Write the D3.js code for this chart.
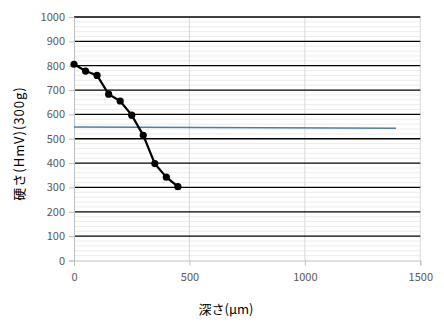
<!DOCTYPE html>
<html><head><meta charset="utf-8">
<script src="https://cdn.jsdelivr.net/npm/d3@7"></script>
<style>body{margin:0;background:#fff}svg{display:block}</style>
</head><body>
<script>
const depth = [0, 50, 100, 150, 200, 250, 300, 350, 400, 450];
const hardness = [806, 778, 760, 683, 655, 597, 514, 398, 342, 303];
const refX = [0, 1395];
const refY = [548, 543];
const xTicks = [0, 500, 1000, 1500];
const yTicks = [0, 100, 200, 300, 400, 500, 600, 700, 800, 900, 1000];
const xTitle = "深さ(μm)";
const yTitle = "硬さ(HmV)(300g)";

const W = 444, H = 331;
const m = {l: 74, r: 24, t: 17, b: 70};
const svg = d3.select("body").append("svg").attr("width", W).attr("height", H);
const x = d3.scaleLinear().domain([0, 1500]).range([m.l, 420.3]);
const y = d3.scaleLinear().domain([0, 1000]).range([260.5, m.t]);
const font = "'Noto Sans CJK JP', 'Liberation Sans', sans-serif";

// minor gridlines
const minor = d3.range(0, 1001, 20).filter(v => v % 100 !== 0);
svg.append("g").selectAll("line").data(minor).join("line")
  .attr("x1", x(0)).attr("x2", x(1500))
  .attr("y1", d => y(d)).attr("y2", d => y(d))
  .attr("stroke", "#ececec").attr("stroke-width", 1);
// vertical gridlines
svg.append("g").selectAll("line").data(xTicks.slice(1)).join("line")
  .attr("x1", d => x(d)).attr("x2", d => x(d))
  .attr("y1", y(1000)).attr("y2", y(0))
  .attr("stroke", "#d9d9d9").attr("stroke-width", 1);
// major gridlines
svg.append("g").selectAll("line").data(yTicks.slice(1)).join("line")
  .attr("x1", x(0)).attr("x2", x(1500))
  .attr("y1", d => y(d)).attr("y2", d => y(d))
  .attr("stroke", "#000").attr("stroke-width", 1.3);

// axes
const yAxis = d3.axisLeft(y).tickValues(yTicks).tickSize(5).tickPadding(4).tickFormat(d3.format("d"));
const gy = svg.append("g").attr("transform", `translate(${x(0)},0)`).call(yAxis);
const xAxis = d3.axisBottom(x).tickValues(xTicks).tickSize(5).tickPadding(8).tickFormat(d3.format("d"));
const gx = svg.append("g").attr("transform", `translate(0,${y(0)})`).call(xAxis);
[gx, gy].forEach(g => {
  g.select(".domain").attr("stroke", "#bfbfbf");
  g.selectAll(".tick line").attr("stroke", "#bfbfbf");
  g.selectAll("text").attr("fill", "#595959").style("font-size", "11px").style("font-family", font);
});

// reference line
svg.append("path").datum(refX.map((d, i) => [d, refY[i]]))
  .attr("d", d3.line().x(d => x(d[0])).y(d => y(d[1])))
  .attr("fill", "none").attr("stroke", "#4a7fa8").attr("stroke-width", 1.5);

// data line
const pts = depth.map((d, i) => [d, hardness[i]]);
svg.append("path").datum(pts)
  .attr("d", d3.line().x(d => x(d[0])).y(d => y(d[1])))
  .attr("fill", "none").attr("stroke", "#000").attr("stroke-width", 2.2);
svg.append("g").selectAll("circle").data(pts).join("circle")
  .attr("cx", d => x(d[0])).attr("cy", d => y(d[1])).attr("r", 3.6).attr("fill", "#000");

// titles
svg.append("text").attr("x", 226).attr("y", 314).attr("text-anchor", "middle")
  .attr("fill", "#000").style("font-size", "13px").style("font-family", font).text(xTitle);
svg.append("text").attr("transform", `translate(24,143.5) rotate(-90)`).attr("text-anchor", "middle")
  .attr("fill", "#000").style("font-size", "13px").style("letter-spacing", "1px")
  .style("font-family", font).text(yTitle);
</script>
</body></html>
